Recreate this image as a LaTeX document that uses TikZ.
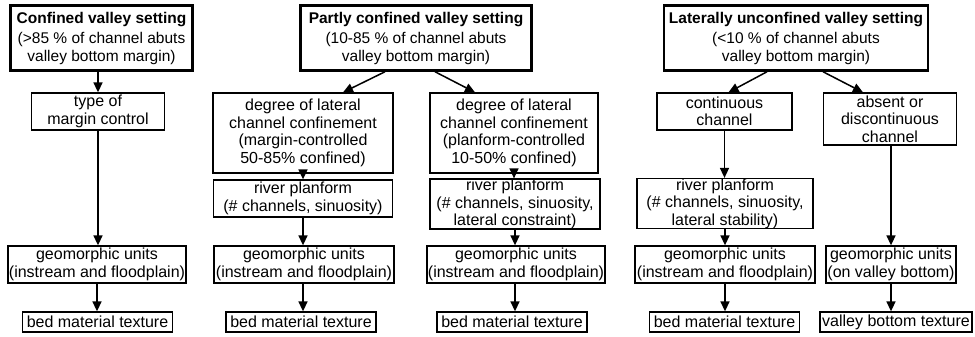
\documentclass[tikz,border=0pt]{standalone}
\usepackage{fontspec}
\setmainfont{Liberation Sans}
\usetikzlibrary{arrows.meta}
\begin{document}
\begin{tikzpicture}[x=1pt,y=-1pt,
  box/.style={draw, line width=1.3pt, align=center, inner xsep=1pt, inner ysep=0pt,
    font=\fontsize{16}{17.5}\selectfont},
  topbox/.style={box, line width=2.5pt, font=\fontsize{15.5}{17.5}\selectfont},
  arr/.style={line width=1.5pt, -{Triangle[width=9pt,length=10pt]}},
]
\useasboundingbox (0,0) rectangle (975,337);
% ---------- column 1 ----------
\node[topbox, minimum width=182, minimum height=65] (c1top) at (101.5,38)
  {\textbf{Confined valley setting}\\[3pt](>85 \% of channel abuts\\valley bottom margin)};
\node[box, minimum width=133, minimum height=37] (c1type) at (98,111.5) {type of\\margin control};
\node[box, minimum width=177, minimum height=37] (c1geo) at (97,264.5) {geomorphic units\\(instream and floodplain)};
\node[box, minimum width=150, minimum height=20] (c1bed) at (97.5,322) {bed material texture};
% ---------- column 2 ----------
\node[topbox, minimum width=231, minimum height=65] (c2top) at (416,38)
  {\textbf{Partly confined valley setting}\\[3pt](10-85 \% of channel abuts\\valley bottom margin)};
\node[box, minimum width=180, minimum height=80] (c2adeg) at (303,133)
  {degree of lateral\\channel confinement\\(margin-controlled\\50-85\% confined)};
\node[box, minimum width=168, minimum height=80] (c2bdeg) at (514,133)
  {degree of lateral\\channel confinement\\(planform-controlled\\10-50\% confined)};
\node[box, minimum width=179, minimum height=37] (c2ariv) at (303,198.5) {river planform\\(\# channels, sinuosity)};
\node[box, minimum width=170, minimum height=48] (c2briv) at (515,204) {river planform\\(\# channels, sinuosity,\\lateral constraint)};
\node[box, minimum width=180, minimum height=37] (c2ageo) at (304,264.5) {geomorphic units\\(instream and floodplain)};
\node[box, minimum width=173, minimum height=37] (c2bgeo) at (516,264.5) {geomorphic units\\(instream and floodplain)};
\node[box, minimum width=150, minimum height=20] (c2abed) at (301,322) {bed material texture};
\node[box, minimum width=150, minimum height=20] (c2bbed) at (512,322) {bed material texture};
% ---------- column 3 ----------
\node[topbox, minimum width=264, minimum height=65] (c3top) at (796,38)
  {\textbf{Laterally unconfined valley setting}\\[3pt](<10 \% of channel abuts\\valley bottom margin)};
\node[box, minimum width=135, minimum height=37] (c3acont) at (724.5,111.5) {continuous\\channel};
\node[box, minimum width=133, minimum height=52] (c3babs) at (890,119) {absent or\\discontinuous\\channel};
\node[box, minimum width=176, minimum height=49] (c3ariv) at (725,203.5) {river planform\\(\# channels, sinuosity,\\lateral stability)};
\node[box, minimum width=180, minimum height=37] (c3ageo) at (725,264.5) {geomorphic units\\(instream and floodplain)};
\node[box, minimum width=130, minimum height=37] (c3bgeo) at (891,264.5) {geomorphic units\\(on valley bottom)};
\node[box, minimum width=150, minimum height=20] (c3abed) at (724.5,322) {bed material texture};
\node[box, minimum width=152, minimum height=20] (c3bvbt) at (896,322) {valley bottom texture};
% ---------- connectors ----------
\draw[arr] (c1type.north |- c1top.south) -- (c1type.north);
\draw[arr] (c1type.south) -- (c1type.south |- c1geo.north);
\draw[arr] (c1geo.south) -- (c1geo.south |- c1bed.north);

\draw[arr] ([xshift=-31pt]c2top.south) -- ([xshift=40pt]c2adeg.north);
\draw[arr] ([xshift=19pt]c2top.south) -- ([xshift=-39pt]c2bdeg.north);
\draw[arr] (c2adeg.south) -- (c2adeg.south |- c2ariv.north);
\draw[arr] (c2bdeg.south) -- (c2bdeg.south |- c2briv.north);
\draw[arr] (c2ariv.south) -- (c2ariv.south |- c2ageo.north);
\draw[arr] (c2briv.south) -- (c2briv.south |- c2bgeo.north);
\draw[arr] (c2ageo.south -| c2ariv.south) -- (c2ariv.south |- c2abed.north);
\draw[arr] (c2bgeo.south -| c2briv.south) -- (c2briv.south |- c2bbed.north);

\draw[arr] ([xshift=-29pt]c3top.south) -- ([xshift=4pt]c3acont.north);
\draw[arr] ([xshift=27pt]c3top.south) -- ([xshift=-27pt]c3babs.north);
\draw[arr] (c3acont.south) -- (c3acont.south |- c3ariv.north);
\draw[arr] (c3ariv.south) -- (c3ariv.south |- c3ageo.north);
\draw[arr] (c3ageo.south) -- (c3ageo.south |- c3abed.north);
\draw[arr] (c3babs.south -| c3bgeo.north) -- (c3bgeo.north);
\draw[arr] (c3bgeo.south -| c3bgeo.north) -- (c3bgeo.south |- c3bvbt.north);
\end{tikzpicture}
\end{document}
